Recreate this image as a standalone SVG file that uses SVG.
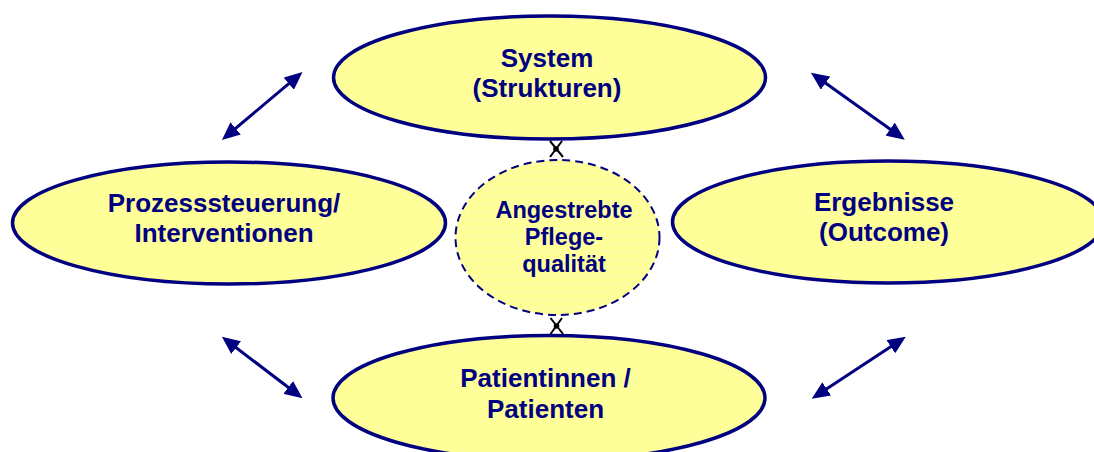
<svg xmlns="http://www.w3.org/2000/svg" width="1094" height="452" viewBox="0 0 1094 452">
  <style>
    .node { fill: #FFFF99; stroke: #000080; stroke-width: 3.5; }
    .core { fill: url(#dots); stroke: #000080; stroke-width: 2; stroke-dasharray: 8 5; }
    .label { font-family: "Liberation Sans", Arial, sans-serif; font-weight: bold; font-size: 26px; fill: #000080; text-anchor: middle; }
    .label.small { font-size: 23.5px; }
    .arrow { stroke: #000080; stroke-width: 3; fill: none; marker-start: url(#head); marker-end: url(#head); }
    .cross { stroke: #000000; stroke-width: 2; fill: none; }
  </style>
  <defs>
    <marker id="head" viewBox="0 0 18 16" refX="4" refY="8" markerWidth="18" markerHeight="16" markerUnits="userSpaceOnUse" orient="auto-start-reverse">
      <path d="M0,0 L18,8 L0,16 Z" fill="#000080"/>
    </marker>
    <!-- yellow fill sprinkled with faint white dots -->
    <pattern id="dots" width="8" height="8" patternUnits="userSpaceOnUse">
      <rect width="8" height="8" fill="#FFFF99"/>
      <circle cx="4" cy="4" r="0.8" fill="#FFFFFF" opacity="0.9"/>
    </pattern>
  </defs>

  <rect width="1094" height="452" fill="#FFFFFF"/>

  <g id="connectors">
    <line class="arrow" x1="232.6" y1="130.9" x2="291.8" y2="81.1"/>
    <line class="arrow" x1="822.3" y1="80.8" x2="893.4" y2="131.5"/>
    <line class="arrow" x1="233" y1="345.2" x2="291.4" y2="389.8"/>
    <line class="arrow" x1="894.1" y1="344.5" x2="823.4" y2="391.1"/>
    <!-- short crossed links to the centre -->
    <path class="cross" d="M550,141 L563,157 M562,141 L550,157"/>
    <circle cx="556" cy="149" r="2.8" fill="#000000"/>
    <path class="cross" d="M550.5,318 L563,334 M562,318 L550.5,334"/>
    <circle cx="556.5" cy="326" r="2.8" fill="#000000"/>
  </g>

  <g id="system">
    <ellipse class="node" cx="549.5" cy="77.5" rx="216" ry="61.5"/>
    <text class="label" x="547" y="67">System</text>
    <text class="label" x="547" y="97">(Strukturen)</text>
  </g>

  <g id="prozess">
    <ellipse class="node" cx="229" cy="223" rx="216.5" ry="61"/>
    <text class="label" x="224" y="212">Prozesssteuerung/</text>
    <text class="label" x="224" y="242">Interventionen</text>
  </g>

  <g id="ergebnisse">
    <ellipse class="node" cx="888" cy="222" rx="215.5" ry="61"/>
    <text class="label" x="884" y="211">Ergebnisse</text>
    <text class="label" x="884" y="241">(Outcome)</text>
  </g>

  <g id="patienten">
    <ellipse class="node" cx="549" cy="398" rx="216" ry="62.5"/>
    <text class="label" x="545.5" y="387">Patientinnen /</text>
    <text class="label" x="545.5" y="418">Patienten</text>
  </g>

  <g id="pflegequalitaet">
    <ellipse class="core" cx="557.5" cy="237.5" rx="102" ry="77.5"/>
    <text class="label small" x="564" y="218">Angestrebte</text>
    <text class="label small" x="564" y="245">Pflege-</text>
    <text class="label small" x="564" y="272">qualität</text>
  </g>
</svg>
